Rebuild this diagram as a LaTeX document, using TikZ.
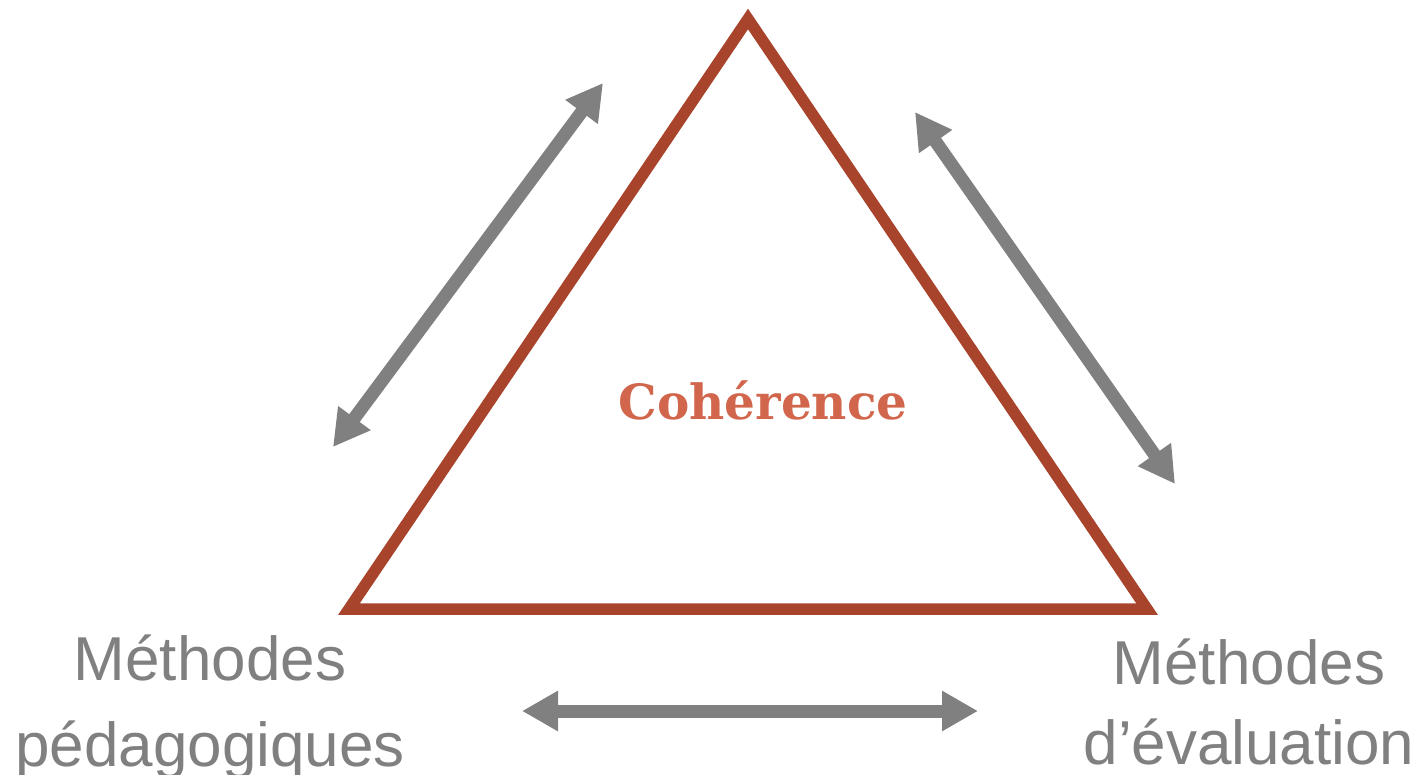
\documentclass[tikz,border=0pt]{standalone}
\usepackage{fontspec}
\setmainfont{Liberation Sans}
\newfontfamily\serifgras{DejaVu Serif}
\usetikzlibrary{arrows.meta}

\definecolor{brique}{HTML}{A8442C}
\definecolor{saumon}{HTML}{D1664C}
\definecolor{grisf}{HTML}{808080}

\tikzstyle{cote}= [draw=brique,line width=11.5pt,line join=miter]
\tikzstyle{fleche}= [draw=grisf,line width=13pt,{Triangle[length=36pt,width=38pt]}-{Triangle[length=36pt,width=38pt]}]
\tikzstyle{methode}= [grisf,align=center,inner sep=0pt]

\begin{document}
\begin{tikzpicture}[x=1pt,y=-1pt]
		\useasboundingbox (0,0) rectangle (1424,774);

		\coordinate (s) at (748,19);
		\coordinate (g) at (349,609);
		\coordinate (d) at (1147,609);
		\draw[cote] (s) -- (g) -- (d) -- cycle;

		\node (coh) at (763,419) [anchor=base,text=saumon,font=\serifgras\bfseries\fontsize{48.5}{52}\selectfont] {Cohérence};

		\node (mp) at (210,707) [methode,font=\fontsize{62}{86}\selectfont] {Méthodes\\pédagogiques};
		\node (me) at (1249,702) [methode,font=\fontsize{62}{80}\selectfont] {Méthodes\\d'évaluation};

		\coordinate (g1) at (333,447);
		\coordinate (g2) at (603,83);
		\coordinate (d1) at (915,112);
		\coordinate (d2) at (1175,484);
		\coordinate (b1) at (522,711);
		\coordinate (b2) at (978,711);

		\path (g1) edge[fleche] node {} (g2);
		\path (d1) edge[fleche] node {} (d2);
		\path (b1) edge[fleche] node {} (b2);

\end{tikzpicture}
\end{document}
